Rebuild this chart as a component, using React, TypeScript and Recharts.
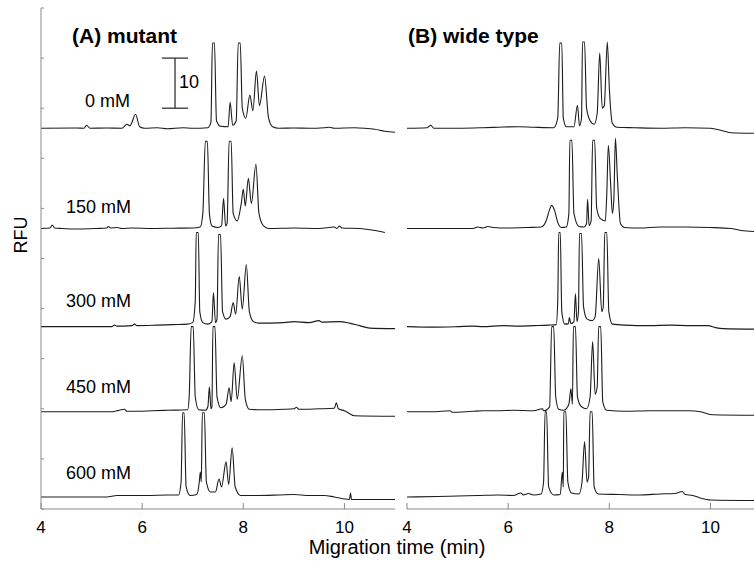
import React from 'react';
import { LineChart, Line, XAxis, YAxis, ReferenceLine } from 'recharts';

type Pt = [number, number];

// stacked electropherograms, values in RFU above each trace's own baseline
const concentrations = ['0 mM', '150 mM', '300 mM', '450 mM', '600 mM'];
const offsets = [76, 56, 36.4, 19.4, 2.4];
const xTicks = [4, 6, 8, 10];
const yTicks = [0, 10, 20, 30, 40, 50, 60, 70, 80, 90, 100];

const mutant0: Pt[] = [
  [4.0, 0], [4.7, 0.05], [4.85, 0], [4.9, 0.6], [4.97, 0], [5.3, 0.05], [5.6, 0], [5.7, 0.8], [5.76, 0.5],
  [5.87, 2.8], [5.95, 0.3], [6.05, 0], [6.3, 0.1], [6.5, -0.1], [6.8, 0.1], [7.0, 0], [7.3, 0.1], [7.36, 1.2],
  [7.39, 17], [7.43, 17], [7.47, 1.5], [7.55, 0.4], [7.7, 0.3], [7.74, 5.2], [7.79, 0.6], [7.86, 1.5],
  [7.9, 17], [7.94, 17], [7.98, 4], [8.05, 2], [8.13, 6.6], [8.19, 3.5], [8.26, 11.4], [8.32, 4.5],
  [8.42, 10.4], [8.5, 2], [8.58, 0.3], [8.7, 0], [9.0, 0.05], [9.3, 0], [9.6, 0.1], [9.7, 0.2], [9.8, 0],
  [10.2, 0.1], [10.4, 0], [10.6, -0.2], [10.8, -0.6], [11, -0.8],
];
const mutant150: Pt[] = [
  [4.0, 0], [4.18, 0.1], [4.22, 0.7], [4.27, 0.1], [4.4, 0], [4.8, -0.1], [5.1, 0], [5.3, 0.1], [5.33, 0.4],
  [5.37, 0.1], [5.5, 0.2], [5.6, 0], [5.8, 0.1], [6.2, 0], [6.6, 0.05], [7.0, 0.1], [7.15, 0.3], [7.2, 3],
  [7.25, 17.4], [7.29, 17.4], [7.33, 3], [7.38, 0.5], [7.5, 0.2], [7.57, 0.5], [7.61, 6], [7.65, 0.5],
  [7.68, 1], [7.72, 17.4], [7.76, 17.4], [7.8, 3], [7.88, 1.5], [7.96, 5], [8.0, 7.8], [8.04, 4.5],
  [8.1, 10], [8.16, 5], [8.25, 12.8], [8.31, 3], [8.4, 0.5], [8.5, 0], [9.0, 0.1], [9.5, 0], [9.8, 0.3],
  [9.85, 0], [9.9, 0.5], [9.95, 0.1], [10.3, 0], [10.6, -0.4], [10.8, -0.8],
];
const mutant300: Pt[] = [
  [4.0, 0], [5.4, 0], [5.45, 0.3], [5.5, 0.1], [5.8, 0.2], [5.85, 0.5], [5.9, 0.2], [6.3, 0.3], [6.6, 0.4],
  [6.9, 0.5], [7.0, 0.8], [7.05, 5], [7.07, 18.8], [7.11, 18.8], [7.14, 3], [7.2, 0.8], [7.3, 0.5],
  [7.38, 1], [7.41, 6.8], [7.45, 0.8], [7.48, 1.5], [7.51, 18.4], [7.55, 18.4], [7.59, 3], [7.66, 1.5],
  [7.74, 2], [7.8, 4.8], [7.85, 2.5], [7.92, 10], [7.98, 3.5], [8.06, 12.4], [8.12, 3], [8.2, 1],
  [8.3, 0.7], [8.8, 0.8], [9.0, 1], [9.3, 0.8], [9.5, 1.2], [9.55, 0.9], [9.9, 1], [10.1, 0.7],
  [10.3, 0.2], [10.5, -0.3], [11, -0.4],
];
const mutant450: Pt[] = [
  [4.0, 0], [5.4, 0], [5.5, 0.2], [5.65, 0.5], [5.7, 0.1], [5.9, 0.1], [6.2, 0.2], [6.5, 0.3], [6.9, 0.4],
  [6.93, 3], [6.97, 17], [7.01, 17], [7.05, 3], [7.12, 0.4], [7.25, 0.3], [7.3, 1], [7.33, 5], [7.36, 0.6],
  [7.38, 1], [7.4, 17], [7.44, 17], [7.48, 3], [7.56, 0.8], [7.66, 1.5], [7.72, 4.8], [7.76, 2],
  [7.82, 9.8], [7.88, 2.5], [7.98, 11.2], [8.04, 2.5], [8.12, 0.5], [8.4, 0.4], [8.8, 0.5], [9.0, 0.6],
  [9.05, 0.9], [9.1, 0.5], [9.5, 0.6], [9.8, 0.7], [9.84, 1.8], [9.88, 0.6], [10.0, 0.2], [10.2, -0.8],
  [11, -0.9],
];
const mutant600: Pt[] = [
  [4.0, 0], [5.3, 0], [5.5, 0.3], [5.8, 0.3], [6.1, 0.3], [6.5, 0.4], [6.72, 0.4], [6.77, 3], [6.8, 16.8],
  [6.83, 16.8], [6.87, 2], [6.95, 0.3], [7.08, 0.5], [7.13, 3], [7.15, 5], [7.17, 3], [7.19, 16.8],
  [7.23, 16.8], [7.27, 3], [7.35, 1], [7.45, 1], [7.52, 3.6], [7.57, 2], [7.66, 7], [7.71, 2.5],
  [7.78, 9.8], [7.84, 2], [7.95, 0.3], [8.3, 0.3], [8.7, 0.4], [9.0, 0.5], [9.3, 0.3], [9.6, 0.3],
  [9.8, 0], [10.1, -0.5], [10.12, 0.8], [10.14, -0.5], [11, -0.5],
];

const wild0: Pt[] = [
  [4.0, 0], [4.4, 0.1], [4.47, 0.6], [4.53, 0], [5.0, 0], [5.5, 0.1], [5.8, 0.2], [6.2, 0.3], [6.5, 0.2],
  [6.9, 0.1], [6.98, 2], [7.02, 17], [7.06, 17], [7.09, 2], [7.15, 0.3], [7.3, 0.3], [7.37, 4.6],
  [7.41, 0.5], [7.45, 2], [7.47, 17.2], [7.51, 17.2], [7.55, 4], [7.62, 1.5], [7.7, 0.8], [7.76, 3],
  [7.81, 15], [7.86, 4], [7.9, 4.5], [7.96, 17.2], [8.0, 8], [8.06, 1], [8.15, 0.2], [8.5, 0.1], [9.0, 0],
  [9.5, 0.1], [10.0, 0], [10.2, -0.4], [10.4, -0.9], [10.86, -1.0],
];
const wild150: Pt[] = [
  [4.0, 0], [5.3, 0], [5.4, 0.3], [5.5, 0.1], [5.6, 0.4], [5.7, 0.2], [6.0, 0.1], [6.4, 0.2], [6.65, 0.3],
  [6.75, 1.5], [6.82, 3.8], [6.86, 4.6], [6.92, 3.5], [6.98, 1.2], [7.05, 0.2], [7.15, 0.3], [7.2, 3],
  [7.22, 17.6], [7.26, 17.6], [7.3, 3], [7.4, 0.4], [7.5, 0.3], [7.55, 1], [7.57, 5.8], [7.6, 0.6],
  [7.64, 1.5], [7.67, 17.6], [7.71, 17.6], [7.75, 4], [7.82, 2], [7.92, 1.5], [7.95, 7], [7.98, 16.6],
  [8.03, 8], [8.06, 3], [8.09, 6], [8.12, 18], [8.16, 10], [8.22, 1], [8.3, 0.2], [8.6, 0.1], [9.0, 0.3],
  [9.5, 0.3], [10.0, 0.2], [10.4, 0], [10.6, -0.4], [10.86, -0.6],
];
const wild300: Pt[] = [
  [4.0, 0], [4.5, -0.1], [5.0, 0], [5.3, 0.1], [5.5, 0], [5.9, 0.2], [6.2, 0.1], [6.5, 0.2], [6.8, 0.3],
  [6.95, 0.4], [6.98, 5], [7.0, 18.8], [7.03, 18.8], [7.06, 3], [7.12, 0.5], [7.19, 0.6], [7.21, 1.8],
  [7.24, 0.6], [7.3, 1], [7.33, 6.6], [7.36, 1], [7.39, 3], [7.41, 18.6], [7.45, 18.6], [7.49, 4],
  [7.56, 1.5], [7.66, 1.2], [7.72, 2], [7.79, 13.6], [7.85, 3], [7.88, 4], [7.91, 18.8], [7.95, 18.8],
  [7.99, 3], [8.06, 0.5], [8.3, 0.3], [8.8, 0.2], [9.2, 0.3], [9.6, 0.2], [9.95, 0.2], [10.1, -0.2],
  [10.25, -0.4], [10.86, -0.5],
];
const wild450: Pt[] = [
  [4.0, 0], [4.5, 0], [4.85, 0.2], [4.9, -0.1], [5.3, 0.1], [5.5, 0.2], [5.8, 0.2], [6.1, 0.3], [6.5, 0.2],
  [6.68, 0.6], [6.7, 0.2], [6.82, 1], [6.86, 17], [6.9, 17], [6.94, 3], [7.0, 0.5], [7.1, 0.3], [7.2, 1.5],
  [7.24, 4.6], [7.27, 1.5], [7.29, 17], [7.33, 17], [7.37, 3], [7.45, 1], [7.55, 0.6], [7.62, 3],
  [7.67, 14], [7.72, 3.5], [7.76, 5], [7.79, 17], [7.83, 17], [7.87, 2], [7.95, 0.3], [8.3, 0.1],
  [8.8, 0.2], [9.3, 0.2], [9.6, 0.2], [9.8, 0], [10.05, -0.6], [10.86, -0.7],
];
const wild600: Pt[] = [
  [4.0, 0], [4.6, 0.1], [5.0, 0.2], [5.4, 0.3], [5.8, 0.4], [6.1, 0.3], [6.25, 0.8], [6.3, 0.4], [6.4, 0.7],
  [6.5, 0.4], [6.65, 0.6], [6.7, 3], [6.73, 17], [6.76, 17], [6.8, 2], [6.9, 0.4], [7.03, 0.5], [7.07, 5],
  [7.09, 2], [7.1, 17], [7.14, 17], [7.18, 3], [7.25, 0.8], [7.4, 0.6], [7.46, 3], [7.51, 11], [7.56, 3],
  [7.59, 4], [7.62, 17], [7.66, 17], [7.7, 2], [7.78, 0.6], [8.2, 0.5], [8.6, 0.4], [9.0, 0.6], [9.3, 0.7],
  [9.44, 1.1], [9.5, 0.5], [9.65, 0.3], [9.8, -0.2], [10.0, -0.6], [10.86, -0.7],
];

const mutantTraces = [mutant0, mutant150, mutant300, mutant450, mutant600];
const wildTraces = [wild0, wild150, wild300, wild450, wild600];

// scale bar: 10 RFU
const scaleBarT = 6.65;
const scaleBarFrom = 80;
const scaleBarTo = 90;

const toSeries = (pts: Pt[], offset: number) => pts.map(([t, v]) => ({ t, v: v + offset }));

const FONT = '"Liberation Sans", Arial, Helvetica, sans-serif';
const AXIS = '#8a8a8a';
const TRACE = '#1c1c1c';

const NoLabel = () => <g />;

const Panel = ({ traces, domainMax, showY }: { traces: Pt[][]; domainMax: number; showY: boolean }) => (
  <LineChart
    width={showY ? 400 : 357}
    height={566}
    margin={{ top: 8, right: showY ? 5 : 0, bottom: 0, left: showY ? 1 : 10 }}
  >
    <XAxis
      dataKey="t"
      type="number"
      domain={[4, domainMax]}
      ticks={xTicks}
      allowDataOverflow
      height={57}
      stroke={AXIS}
      tickSize={-6}
      tickMargin={18}
      tick={{ fontSize: 17, fill: '#000', fontFamily: FONT }}
    />
    <YAxis
      type="number"
      domain={[0, 100]}
      ticks={yTicks}
      hide={!showY}
      width={40}
      stroke={AXIS}
      tickSize={-3}
      tick={<NoLabel />}
    />
    {traces.map((pts, i) => (
      <Line
        key={i}
        data={toSeries(pts, offsets[i])}
        dataKey="v"
        type="monotone"
        stroke={TRACE}
        strokeWidth={1.1}
        dot={false}
        activeDot={false}
        isAnimationActive={false}
      />
    ))}
    {showY && (
      <ReferenceLine
        segment={[{ x: scaleBarT, y: scaleBarFrom }, { x: scaleBarT, y: scaleBarTo }]}
        stroke="#333"
        strokeWidth={1.3}
      />
    )}
    {showY && (
      <ReferenceLine
        segment={[{ x: scaleBarT - 0.26, y: scaleBarFrom }, { x: scaleBarT + 0.26, y: scaleBarFrom }]}
        stroke="#333"
        strokeWidth={1.3}
      />
    )}
    {showY && (
      <ReferenceLine
        segment={[{ x: scaleBarT - 0.26, y: scaleBarTo }, { x: scaleBarT + 0.26, y: scaleBarTo }]}
        stroke="#333"
        strokeWidth={1.3}
      />
    )}
  </LineChart>
);

const labelBaselines = [107, 213, 307, 393, 479];

export default function App() {
  return (
    <div style={{ position: 'absolute', left: 0, top: 0, width: 754, height: 566, background: '#fff', fontFamily: FONT }}>
      <div style={{ position: 'absolute', left: 0, top: 0 }}>
        <Panel traces={mutantTraces} domainMax={11} showY />
      </div>
      <div style={{ position: 'absolute', left: 397, top: 0 }}>
        <Panel traces={wildTraces} domainMax={10.86} showY={false} />
      </div>
      <svg width={754} height={566} style={{ position: 'absolute', left: 0, top: 0, pointerEvents: 'none' }}>
        <text x={72} y={43} fontSize={21} fontWeight="bold" fontFamily={FONT}>(A) mutant</text>
        <text x={408} y={43} fontSize={21} fontWeight="bold" fontFamily={FONT}>(B) wide type</text>
        {concentrations.map((c, i) => (
          <text key={c} x={i === 0 ? 85 : 66} y={labelBaselines[i]} fontSize={18} fontFamily={FONT}>{c}</text>
        ))}
        <text x={179} y={88} fontSize={18} fontFamily={FONT}>10</text>
        <text x={397} y={554} fontSize={20} fontFamily={FONT} textAnchor="middle">Migration time (min)</text>
        <text x={27} y={235} fontSize={18} fontFamily={FONT} textAnchor="middle" transform="rotate(-90 27 235)">RFU</text>
      </svg>
    </div>
  );
}
